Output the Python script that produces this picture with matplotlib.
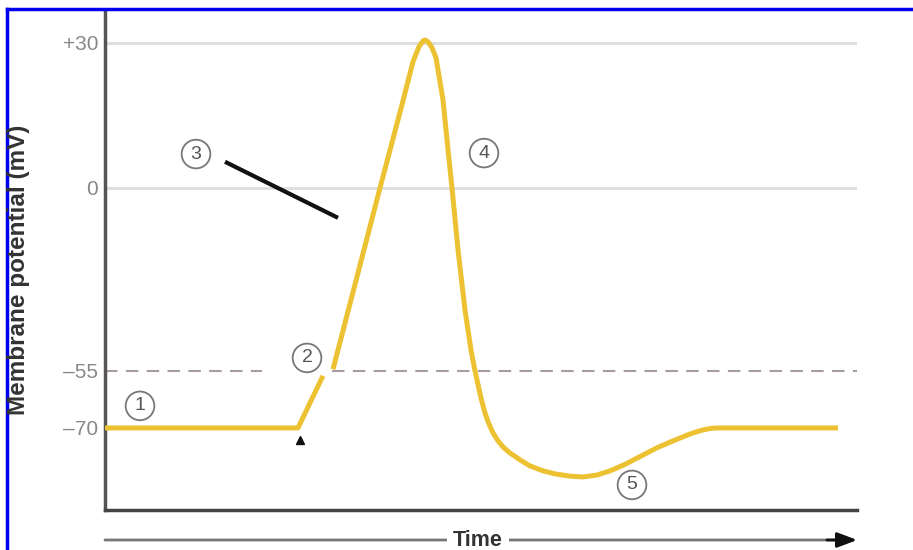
import numpy as np
import matplotlib
matplotlib.use("Agg")
import matplotlib.pyplot as plt
from matplotlib.lines import Line2D

# time (arbitrary units) and membrane potential (mV)
t_rest = [0.0, 1.93, 2.18]
v_rest = [-70, -70, -56.3]

t_spike = [2.28, 2.59, 2.75, 2.97, 3.08, 3.14, 3.18, 3.20, 3.23, 3.27, 3.31,
           3.38, 3.43, 3.47, 3.53, 3.60, 3.66, 3.70, 3.72, 3.76, 3.80, 3.84,
           3.88, 3.93, 3.98, 4.05, 4.15, 4.25, 4.38, 4.50, 4.65, 4.78, 4.92,
           5.05, 5.20, 5.36, 5.53, 5.70, 5.85, 5.97, 6.06, 6.15, 7.33]
v_spike = [-54.5, -18.6, 0.0, 17.2, 26.1, 29.2, 30.4, 30.6, 30.2, 29.0, 26.9,
           18.2, 7.9, 0.0, -18.6, -36.7, -48.7, -55.0, -57.4, -62.1, -66.1, -69.0,
           -71.3, -73.4, -75.0, -76.6, -78.4, -80.0, -81.3, -82.1, -82.7, -82.9, -82.4,
           -81.3, -79.6, -77.4, -75.1, -73.2, -71.6, -70.6, -70.1, -70.0, -70.0]

tick_vals = [30, 0, -55, -70]
tick_labels = ["+30", "0", "\u201355", "\u201370"]

# circled phase labels (time, mV)
phase_labels = ["1", "2", "3", "4", "5"]
phase_t = [0.35, 2.02, 0.91, 3.79, 5.27]
phase_v = [-64.2, -51.1, 7.0, 7.2, -85.0]

# the axis is drawn schematically: not linear in mV
knots_mv = [-200, -70, -55, 0, 30, 200]
knots_px = [-412, 82, 139, 322, 467, 1288.6]

def fwd(v):
    return np.interp(v, knots_mv, knots_px)

def inv(p):
    return np.interp(p, knots_px, knots_mv)

fig = plt.figure(figsize=(9.13, 5.5), dpi=100)
W, H = 913, 550
ax = fig.add_axes([105 / W, 1 - 510 / H, (857 - 105) / W, 500 / H])
ax.set_yscale("function", functions=(fwd, inv))
ax.set_xlim(0, 7.52)
ax.set_ylim(-91.6, 36.8)

# reference lines
for v in [30, 0]:
    ax.axhline(v, color="#dddddd", lw=2, zorder=1)
ax.plot([0, 1.57], [-55, -55], color="#a89ca0", lw=1.5, dashes=(6, 4), zorder=1)
ax.plot([2.27, 7.52], [-55, -55], color="#a89ca0", lw=1.5, dashes=(6, 4), zorder=1)

yellow = "#ecc233"
ax.plot(t_rest, v_rest, color=yellow, lw=3.6, solid_capstyle="butt", zorder=3)
ax.plot(t_spike, v_spike, color=yellow, lw=3.6, solid_joinstyle="round",
        solid_capstyle="butt", zorder=3)

# stimulus marker
ax.plot([1.95], [-73.3], marker="^", color="#111111", ms=5.5, zorder=4)

# pointer line for 3
ax.plot([1.20, 2.33], [5.4, -9.0], color="#111111", lw=3, solid_capstyle="butt", zorder=4)

for lab, t, v in zip(phase_labels, phase_t, phase_v):
    ax.text(t, v, lab, fontsize=14, color="#555555", ha="center", va="center",
            family="Liberation Sans",
            bbox=dict(boxstyle="circle,pad=0.3", fc="white", ec="#777777", lw=1.3),
            zorder=5)

ax.set_yticks(tick_vals)
ax.set_yticklabels(tick_labels, fontsize=15, color="#888888", family="Liberation Sans")
ax.set_xticks([])
ax.tick_params(axis="y", length=0, pad=5)

for s in ["top", "right"]:
    ax.spines[s].set_visible(False)
ax.spines["left"].set_color("#555555")
ax.spines["left"].set_linewidth(2.5)
ax.spines["bottom"].set_color("#444444")
ax.spines["bottom"].set_linewidth(2.5)

fig.text(19 / W, 1 - 270 / H, "Membrane potential (mV)", rotation=90,
         ha="center", va="center", fontsize=17.5, fontweight="bold",
         color="#333333", family="Liberation Sans")

# time arrow under the axis
ax.annotate("", xy=(1.0, -0.06), xytext=(0.0, -0.06), xycoords="axes fraction",
            textcoords="axes fraction", annotation_clip=False,
            arrowprops=dict(arrowstyle="-|>,head_length=1.2,head_width=0.45",
                            color="#777777", lw=2, shrinkA=0, shrinkB=0))
ax.annotate("", xy=(1.0, -0.06), xytext=(0.96, -0.06), xycoords="axes fraction",
            textcoords="axes fraction", annotation_clip=False,
            arrowprops=dict(arrowstyle="-|>,head_length=1.2,head_width=0.45",
                            color="#111111", lw=2, shrinkA=0, shrinkB=0))
fig.text(478 / W, 1 - 540 / H, "Time", ha="center", va="center", fontsize=15.5,
         fontweight="bold", color="#333333", family="Liberation Sans",
         bbox=dict(boxstyle="square,pad=0.3", fc="white", ec="none"))

# blue frame
fig.add_artist(Line2D([7 / W, 7 / W], [0, 1 - 9 / H], color="#0000ee", lw=2.5))
fig.add_artist(Line2D([7 / W, 1], [1 - 9 / H, 1 - 9 / H], color="#0000ee", lw=2.5))

fig.savefig("out.png", dpi=100)
